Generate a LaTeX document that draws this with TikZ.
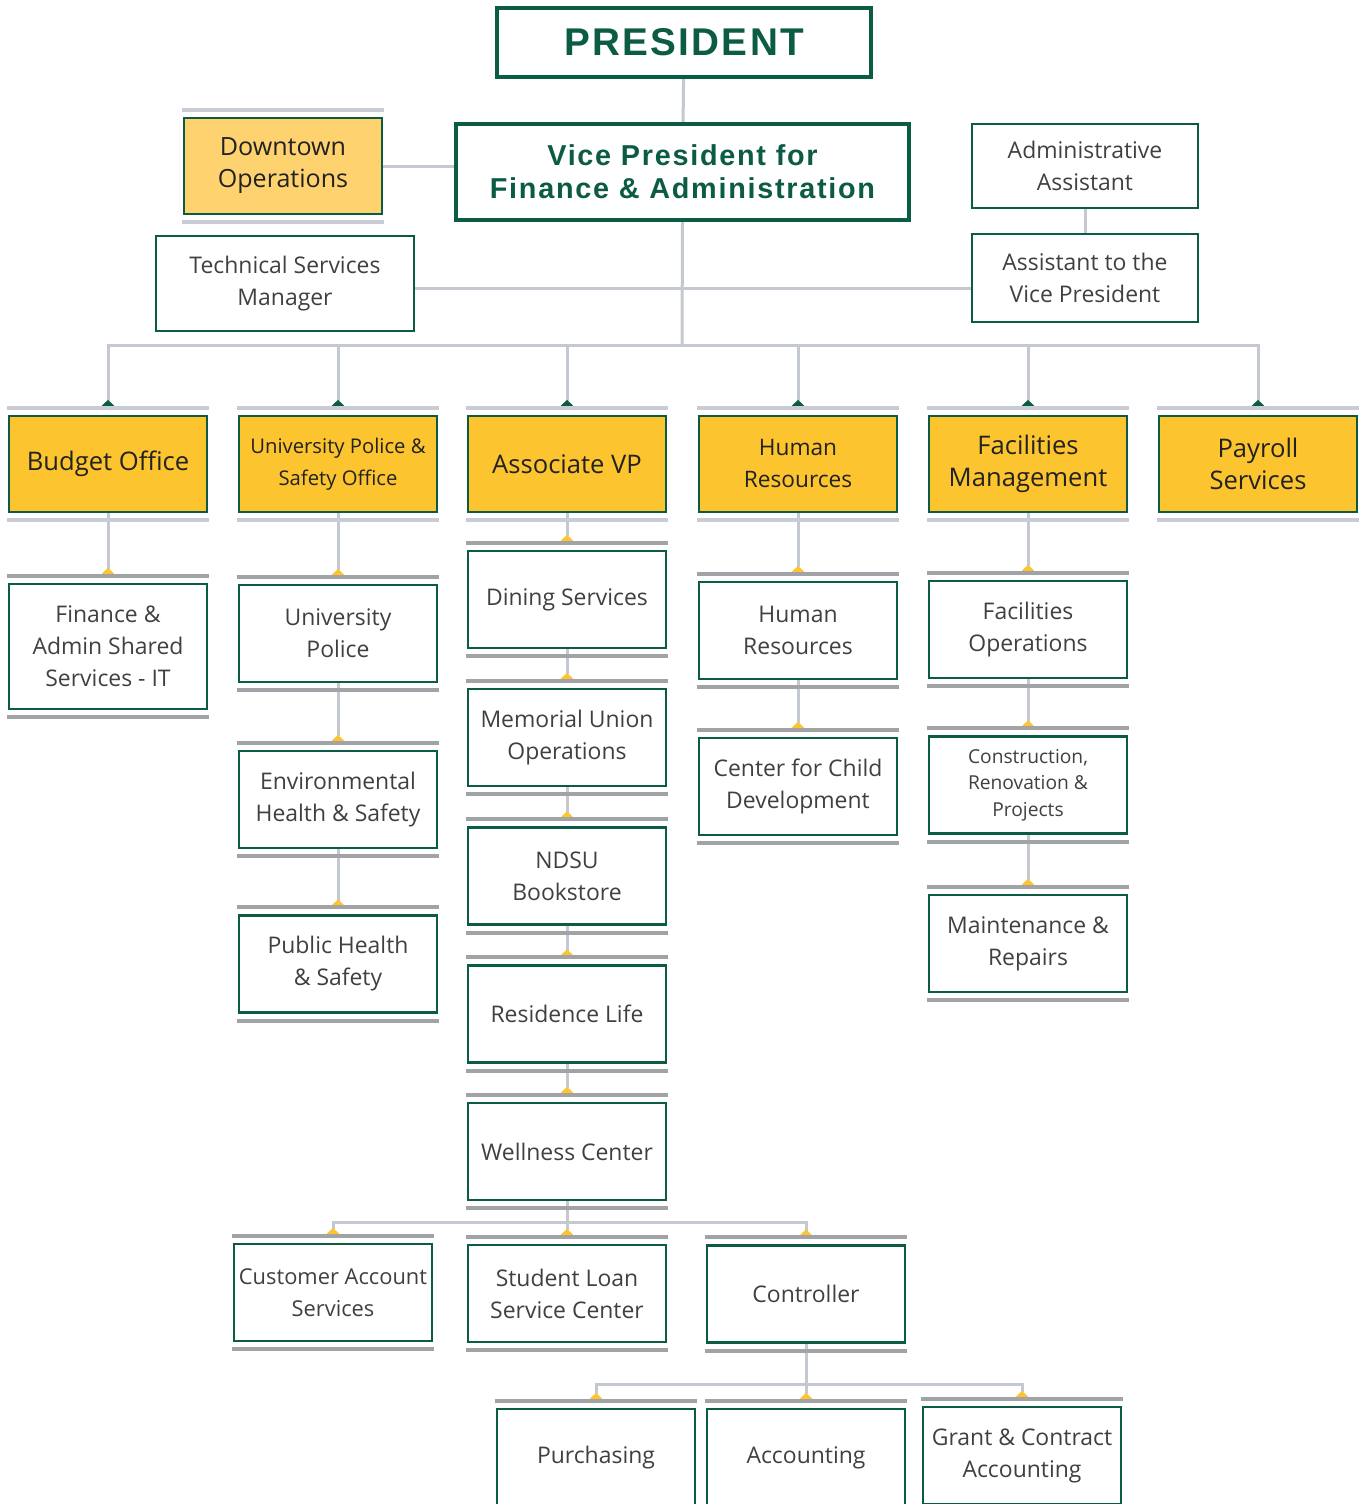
\documentclass[tikz,border=0pt]{standalone}
\usepackage{fontspec}
\setmainfont{Open Sans}
\newfontfamily\headfont[LetterSpace=6]{Liberation Sans}
\usetikzlibrary{arrows.meta,calc,backgrounds}

\definecolor{ndsugreen}{RGB}{12,91,69}
\definecolor{gold}{RGB}{252,196,46}
\definecolor{palegold}{RGB}{253,210,111}
\definecolor{linegray}{RGB}{196,200,209}
\definecolor{barlight}{RGB}{201,204,212}
\definecolor{bardark}{RGB}{162,163,167}
\definecolor{boxtext}{RGB}{64,64,64}
\definecolor{darktext}{RGB}{34,34,34}

\tikzset{
  box/.style={draw=ndsugreen, line width=1.8pt, fill=white, text=boxtext, align=center,
    minimum width=148.5pt, minimum height=72.75pt, inner sep=1pt,
    font=\fontsize{17.2}{24}\selectfont},
  unit/.style={box, fill=gold, text=darktext, minimum height=72pt,
    font=\fontsize{19.2}{24}\selectfont},
  head/.style={draw=ndsugreen, line width=3pt, fill=white, text=ndsugreen, align=center},
  link/.style={draw=linegray, line width=2.25pt},
  feed/.style={link, -{Triangle[reversed, width=9pt, length=4.5pt, color=#1]}},
  bar/.style={draw=#1, line width=3pt, shorten <=-0.9pt, shorten >=-0.9pt},
}

\begin{document}
\begin{tikzpicture}[x=0.75pt, y=-0.75pt]
\useasboundingbox (0,0) rectangle (1360,1504);

% top of the chart
\node[head, minimum width=280.5pt, minimum height=51.75pt,
  font=\headfont\bfseries\fontsize{29}{30}\selectfont] (pres) at (684,42.5) {PRESIDENT};
\node[head, line width=3.3pt, minimum width=339.75pt, minimum height=72pt,
  font=\headfont\bfseries\fontsize{21.6}{24.5}\selectfont] (vp) at (682.5,172)
  {Vice President for\\Finance \& Administration};
\node[box, fill=palegold, text=darktext, minimum height=72pt,
  font=\fontsize{18.8}{24}\selectfont] (down) at (283,166) {Downtown\\Operations};
\node[box, minimum width=193.5pt, minimum height=71.25pt] (tech) at (285,283.5)
  {Technical Services\\Manager};
\node[box, minimum width=169.5pt, minimum height=63pt] (admin) at (1085,166)
  {Administrative\\Assistant};
\node[box, minimum width=169.5pt, minimum height=66pt] (asst) at (1085,278)
  {Assistant to the\\Vice President};

% units
\node[unit] (bud) at (108,464) {Budget Office};
\node[unit, font=\fontsize{15.2}{24}\selectfont] (upo) at (338,464) {University Police \&\\Safety Office};
\node[unit] (avp) at (567,464) {Associate VP};
\node[unit, font=\fontsize{17}{24}\selectfont] (hru) at (798,464) {Human\\Resources};
\node[unit] (fmg) at (1028,464) {Facilities\\Management};
\node[unit] (pay) at (1258,464) {Payroll\\Services};

% offices
\node[box, minimum height=93.75pt] (fin) at (108,646.5) {Finance \&\\Admin Shared\\Services - IT};
\node[box] (upol) at (338,633.5) {University\\Police};
\node[box] (envh) at (338,799.5) {Environmental\\Health \& Safety};
\node[box] (pubh) at (338,964) {Public Health\\\& Safety};
\node[box] (dine) at (567,599.5) {Dining Services};
\node[box] (memu) at (567,737.5) {Memorial Union\\Operations};
\node[box] (book) at (567,876) {NDSU\\Bookstore};
\node[box] (resl) at (567,1014) {Residence Life};
\node[box] (well) at (567,1151.5) {Wellness Center};
\node[box, font=\fontsize{16.4}{24}\selectfont] (cust) at (333,1292.5) {Customer Account\\Services};
\node[box] (loan) at (567,1293.5) {Student Loan\\Service Center};
\node[box] (ctrl) at (806,1294) {Controller};
\node[box] (purc) at (596,1457.5) {Purchasing};
\node[box] (acct) at (806,1457.5) {Accounting};
\node[box] (gran) at (1022,1455.5) {Grant \& Contract\\Accounting};
\node[box] (hres) at (798,630.5) {Human\\Resources};
\node[box] (ccd) at (798,786.5) {Center for Child\\Development};
\node[box] (faco) at (1028,629.5) {Facilities\\Operations};
\node[box, font=\fontsize{14.4}{19.8}\selectfont] (cons) at (1028,785) {Construction,\\Renovation \&\\Projects};
\node[box] (main) at (1028,943.5) {Maintenance \&\\Repairs};

\begin{pgfonlayer}{background}
% lines
\coordinate (bus) at (682,345);
\coordinate (bus2) at (567,1222);
\coordinate (bus3) at (806,1384);
\draw[link] (pres) -- (vp);
\draw[link] (down) -- (down -| vp.west);
\draw[link] ([yshift=-3.5pt]tech.east) -- ([yshift=-3.5pt]tech.east -| asst.west);
\draw[link] (admin) -- (asst);
\draw[link] (vp.south) -- (bus);
\draw[link, line cap=rect] (bus -| bud) -- (bus -| pay);
\foreach \u in {bud,upo,avp,hru,fmg,pay}
  \draw[feed=ndsugreen] (bus -| \u) -- ($(\u.north)+(0,6.75pt)$);
\foreach \a/\b in {bud/fin, upo/upol, upol/envh, envh/pubh, avp/dine, dine/memu,
    memu/book, book/resl, resl/well, hru/hres, hres/ccd, fmg/faco, faco/cons, cons/main}
  \draw[feed=gold] (\a.south) -- ($(\b.north)+(0,6.75pt)$);
\draw[link] (well.south) -- (bus2);
\draw[link, line cap=rect] (bus2 -| cust) -- (bus2 -| ctrl);
\foreach \u in {cust,loan,ctrl}
  \draw[feed=gold] (bus2 -| \u) -- ($(\u.north)+(0,6.75pt)$);
\draw[link] (ctrl.south) -- (bus3);
\draw[link, line cap=rect] (bus3 -| purc) -- (bus3 -| gran);
\foreach \u in {purc,acct,gran}
  \draw[feed=gold] (bus3 -| \u) -- ($(\u.north)+(0,6.75pt)$);
% bars above and below the boxes
\foreach \n in {down,bud,upo,avp,hru,fmg,pay}{
  \draw[bar=barlight] ($(\n.north west)+(0,5.25pt)$) -- ($(\n.north east)+(0,5.25pt)$);
  \draw[bar=barlight] ($(\n.south west)+(0,-5.25pt)$) -- ($(\n.south east)+(0,-5.25pt)$);
}
\foreach \n in {fin,upol,envh,pubh,dine,memu,book,resl,well,cust,loan,ctrl,
    purc,acct,gran,hres,ccd,faco,cons,main}{
  \draw[bar=bardark] ($(\n.north west)+(0,5.25pt)$) -- ($(\n.north east)+(0,5.25pt)$);
  \draw[bar=bardark] ($(\n.south west)+(0,-5.25pt)$) -- ($(\n.south east)+(0,-5.25pt)$);
}
\end{pgfonlayer}
\end{tikzpicture}
\end{document}
